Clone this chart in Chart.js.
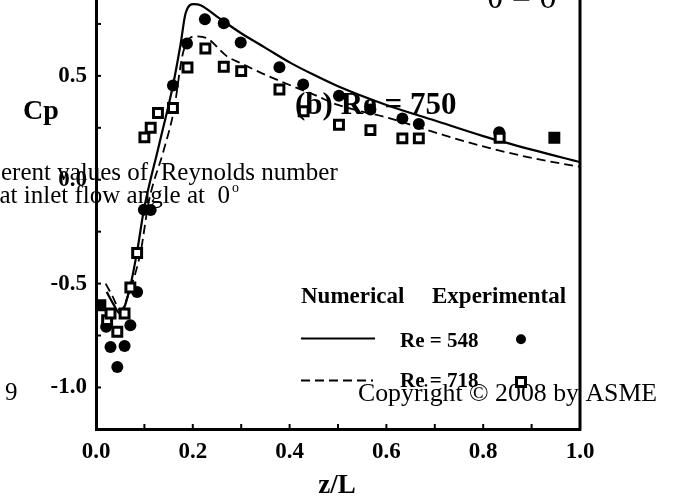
<!DOCTYPE html>
<html>
<head>
<meta charset="utf-8">
<title>Cp distribution along z/L</title>
<script src="https://cdn.jsdelivr.net/npm/chart.js@4.4.1/dist/chart.umd.min.js"></script>
<style>
    html, body { margin: 0; padding: 0; background: #fff; overflow: hidden; }
    #wrap { position: relative; width: 676px; height: 497px; overflow: hidden; }
    #cpChart { position: absolute; left: 0; top: -40px; }
</style>
</head>
<body>
<div id="wrap"><canvas id="cpChart" width="676" height="537"></canvas></div>
<script>
// Numerical curves (z/L, Cp)
const zNumeric548 = [0.022, 0.035, 0.05, 0.068, 0.085, 0.099, 0.13, 0.159, 0.175, 0.185, 0.202, 0.216, 0.25, 0.3, 0.35, 0.4, 0.45, 0.5, 0.6, 0.7, 0.8, 0.9, 1.0];
const cpNumeric548 = [-0.54, -0.595, -0.645, -0.54, -0.345, -0.144, 0.165, 0.454, 0.656, 0.80, 0.845, 0.84, 0.785, 0.705, 0.635, 0.565, 0.505, 0.45, 0.36, 0.285, 0.21, 0.145, 0.085];

const zNumeric718 = [0.02, 0.035, 0.05, 0.07, 0.092, 0.109, 0.14, 0.161, 0.178, 0.188, 0.206, 0.23, 0.27, 0.3, 0.35, 0.4, 0.45, 0.5, 0.6, 0.7, 0.8, 0.9, 1.0];
const cpNumeric718 = [-0.50, -0.565, -0.63, -0.53, -0.35, -0.106, 0.143, 0.335, 0.592, 0.664, 0.69, 0.68, 0.595, 0.56, 0.505, 0.456, 0.41, 0.36, 0.30, 0.228, 0.16, 0.105, 0.062];

// Experimental points
const zExp548 = [0.021, 0.030, 0.044, 0.059, 0.071, 0.085, 0.099, 0.113, 0.159, 0.188, 0.225, 0.264, 0.299, 0.379, 0.428, 0.502, 0.567, 0.633, 0.667, 0.833];
const cpExp548 = [-0.708, -0.805, -0.901, -0.801, -0.700, -0.540, -0.144, -0.146, 0.454, 0.656, 0.773, 0.753, 0.661, 0.542, 0.459, 0.404, 0.338, 0.295, 0.268, 0.229];

const zExp718 = [0.023, 0.030, 0.044, 0.059, 0.071, 0.085, 0.100, 0.113, 0.128, 0.159, 0.189, 0.226, 0.264, 0.300, 0.379, 0.429, 0.502, 0.567, 0.633, 0.667, 0.834];
const cpExp718 = [-0.676, -0.644, -0.732, -0.644, -0.519, -0.353, 0.204, 0.250, 0.321, 0.345, 0.540, 0.632, 0.544, 0.523, 0.434, 0.330, 0.265, 0.239, 0.199, 0.199, 0.202];

const zExpSolid = [0.009, 0.947];
const cpExpSolid = [-0.604, 0.202];

// Axis ticks
const xTickValues = [0, 0.1, 0.2, 0.3, 0.4, 0.5, 0.6, 0.7, 0.8, 0.9, 1.0];
const xTickLabels = ['0.0', '', '0.2', '', '0.4', '', '0.6', '', '0.8', '', '1.0'];
const yTickValues = [-1.0, -0.75, -0.5, -0.25, 0, 0.25, 0.5, 0.75, 1.0];
const yTickLabels = ['-1.0', '', '-0.5', '', '0.0', '', '0.5', '', '1.0'];

const OFFSET = 40; // canvas is shifted up by this much
const SERIF = '"Liberation Serif", "Times New Roman", serif';

function pairs(xs, ys) {
    return xs.map((x, i) => ({ x: x, y: ys[i] }));
}

// Inner tick marks and the right-hand frame line
const framePlugin = {
    id: 'frame',
    afterDraw(chart) {
        const ctx = chart.ctx;
        const area = chart.chartArea;
        const xs = chart.scales.x;
        const ys = chart.scales.y;
        ctx.save();
        ctx.strokeStyle = '#000';
        ctx.lineWidth = 2;
        xTickValues.forEach(v => {
            const px = xs.getPixelForValue(v);
            ctx.beginPath();
            ctx.moveTo(px, area.bottom);
            ctx.lineTo(px, area.bottom - 5);
            ctx.stroke();
        });
        yTickValues.forEach(v => {
            const py = ys.getPixelForValue(v);
            ctx.beginPath();
            ctx.moveTo(area.left, py);
            ctx.lineTo(area.left + 5, py);
            ctx.stroke();
        });
        ctx.lineWidth = 3;
        ctx.beginPath();
        ctx.moveTo(area.right, area.top);
        ctx.lineTo(area.right, area.bottom + 1.5);
        ctx.stroke();
        ctx.restore();
    }
};

// Axis titles, legend box and annotation text
const textPlugin = {
    id: 'texts',
    afterDraw(chart) {
        const ctx = chart.ctx;
        ctx.save();
        ctx.fillStyle = '#000';
        ctx.strokeStyle = '#000';
        ctx.textBaseline = 'alphabetic';

        const text = (str, x, y, font, align) => {
            ctx.font = font;
            ctx.textAlign = align || 'left';
            ctx.fillText(str, x, y + OFFSET);
        };

        // axis titles
        text('Cp', 23, 119, 'bold 28px ' + SERIF);
        text('z/L', 337, 493, 'bold 27px ' + SERIF, 'center');

        // legend
        text('Numerical', 301, 303, 'bold 23px ' + SERIF);
        text('Experimental', 432, 303, 'bold 23px ' + SERIF);
        text('Re = 548', 400, 346.5, 'bold 21px ' + SERIF);
        text('Re = 718', 400, 387, 'bold 21px ' + SERIF);

        ctx.lineWidth = 2.2;
        ctx.beginPath();
        ctx.moveTo(301, 338.5 + OFFSET);
        ctx.lineTo(375, 338.5 + OFFSET);
        ctx.stroke();
        ctx.lineWidth = 1.8;
        ctx.setLineDash([9, 5]);
        ctx.beginPath();
        ctx.moveTo(301, 380.5 + OFFSET);
        ctx.lineTo(373, 380.5 + OFFSET);
        ctx.stroke();
        ctx.setLineDash([]);

        ctx.beginPath();
        ctx.arc(521, 339.3 + OFFSET, 5, 0, Math.PI * 2);
        ctx.fill();
        ctx.lineWidth = 3;
        ctx.fillStyle = '#fff';
        ctx.fillRect(516.5, 377.5 + OFFSET, 9, 9);
        ctx.strokeRect(516.5, 377.5 + OFFSET, 9, 9);
        ctx.fillStyle = '#000';

        // annotations
        text('(b) Re = 750', 295, 113.5, 'bold 31px ' + SERIF);
        text('\u03b8 = 0\u00b0', 487, 8, '34px ' + SERIF);
        text('erent values of  Reynolds number', 1, 180, '25px ' + SERIF);
        text('at inlet flow angle at  0', 230, 203, '25px ' + SERIF, 'right');
        text('o', 232, 192, '14px ' + SERIF);
        text('9', 5, 400, '25px ' + SERIF);
        text('Copyright \u00a9 2008 by ASME', 358, 400.5, '25.8px ' + SERIF);

        ctx.restore();
    }
};

const tickFont = { family: SERIF, size: 23, weight: 'bold' };

new Chart(document.getElementById('cpChart'), {
    type: 'scatter',
    data: {
        datasets: [
            {
                label: 'Re = 718 (exp)',
                data: pairs(zExp718, cpExp718),
                pointStyle: 'rect',
                pointRadius: 6.3,
                pointBorderWidth: 3,
                pointBackgroundColor: '#fff',
                pointBorderColor: '#000',
                showLine: false,
                order: 0
            },
            {
                label: 'Solid squares',
                data: pairs(zExpSolid, cpExpSolid),
                pointStyle: 'rect',
                pointRadius: 6.3,
                pointBorderWidth: 3,
                pointBackgroundColor: '#000',
                pointBorderColor: '#000',
                showLine: false,
                order: 1
            },
            {
                label: 'Re = 548 (exp)',
                data: pairs(zExp548, cpExp548),
                pointStyle: 'circle',
                pointRadius: 6,
                pointBorderWidth: 0,
                pointBackgroundColor: '#000',
                showLine: false,
                order: 2
            },
            {
                label: 'Re = 548',
                data: pairs(zNumeric548, cpNumeric548),
                showLine: true,
                borderColor: '#000',
                borderWidth: 2.2,
                pointRadius: 0,
                cubicInterpolationMode: 'monotone',
                order: 3
            },
            {
                label: 'Re = 718',
                data: pairs(zNumeric718, cpNumeric718),
                showLine: true,
                borderColor: '#000',
                borderWidth: 1.8,
                borderDash: [9, 5],
                pointRadius: 0,
                cubicInterpolationMode: 'monotone',
                order: 4
            }
        ]
    },
    options: {
        responsive: false,
        animation: false,
        devicePixelRatio: 1,
        layout: { padding: { left: 0, right: 96, top: 12, bottom: 0 } },
        plugins: {
            legend: { display: false },
            tooltip: { enabled: false }
        },
        scales: {
            x: {
                type: 'linear',
                min: 0,
                max: 1,
                afterBuildTicks: scale => { scale.ticks = xTickValues.map(v => ({ value: v })); },
                afterFit: scale => {
                    scale.height = 68;
                    scale.paddingLeft = 0;
                    scale.paddingRight = 0;
                },
                grid: { drawOnChartArea: false, drawTicks: false },
                border: { display: true, color: '#000', width: 3 },
                ticks: {
                    autoSkip: false,
                    maxRotation: 0,
                    padding: 9,
                    color: '#000',
                    font: tickFont,
                    callback: (value, index) => xTickLabels[index]
                }
            },
            y: {
                type: 'linear',
                min: -1.2,
                max: 1.0,
                afterBuildTicks: scale => { scale.ticks = yTickValues.map(v => ({ value: v })); },
                afterFit: scale => {
                    scale.width = 96;
                    scale.paddingTop = 0;
                    scale.paddingBottom = 0;
                },
                grid: { drawOnChartArea: false, drawTicks: false },
                border: { display: true, color: '#000', width: 3 },
                ticks: {
                    autoSkip: false,
                    padding: 9,
                    color: '#000',
                    font: tickFont,
                    callback: (value, index) => yTickLabels[index]
                }
            }
        }
    },
    plugins: [framePlugin, textPlugin]
});
</script>
</body>
</html>
